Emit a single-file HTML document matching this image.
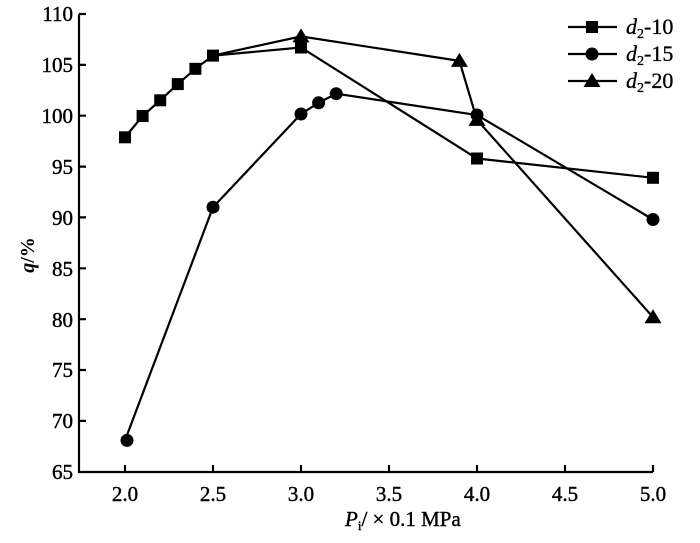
<!DOCTYPE html>
<html><head><meta charset="utf-8"><style>
html,body{margin:0;padding:0;background:#fff;}
svg{display:block;font-family:"Liberation Serif",serif;}
</style></head><body>
<svg width="700" height="543" viewBox="0 0 700 543" xmlns="http://www.w3.org/2000/svg">
<defs>
<g id="sq"><rect x="-6" y="-6" width="12" height="12" fill="#000"/></g>
<g id="ci"><circle r="6.5" fill="#000"/></g>
<g id="tr"><polygon points="0,-8 8.5,6 -8.5,6" fill="#000"/></g>
</defs>
<g stroke="#000" stroke-width="2.2" fill="none">
<polyline points="79,14 79,472 653,472"/>
<path d="M79,14h7M79,64.9h7M79,115.7h7M79,166.6h7M79,217.4h7M79,268.3h7M79,319.2h7M79,370h7M79,420.9h7"/>
<path d="M125,472v-7M213,472v-7M301,472v-7M389,472v-7M477,472v-7M565,472v-7M653,472v-7"/>
</g>
<g font-size="21" text-anchor="end" fill="#000" stroke="#000" stroke-width="0.4">
<text x="73" y="21">110</text><text x="73" y="72">105</text><text x="73" y="123">100</text>
<text x="73" y="174">95</text><text x="73" y="225">90</text><text x="73" y="276">85</text>
<text x="73" y="327">80</text><text x="73" y="377">75</text><text x="73" y="428">70</text>
<text x="73" y="479">65</text>
</g>
<g font-size="21" text-anchor="middle" fill="#000" stroke="#000" stroke-width="0.4">
<text x="125" y="501">2.0</text><text x="213" y="501">2.5</text><text x="301" y="501">3.0</text>
<text x="389" y="501">3.5</text><text x="477" y="501">4.0</text><text x="565" y="501">4.5</text><text x="653" y="501">5.0</text>
</g>
<text x="345" y="526" font-size="21" fill="#000" stroke="#000" stroke-width="0.4"><tspan font-style="italic">P</tspan><tspan font-size="13" dy="4">i</tspan><tspan dy="-4">/ × 0.1 MPa</tspan></text>
<text transform="translate(34,255) rotate(-90)" font-size="20" font-weight="bold" text-anchor="middle" fill="#000"><tspan font-style="italic">q</tspan>/%</text>
<g stroke="#000" stroke-width="2.2" fill="none">
<polyline points="125,137.3 142.6,116 160.2,100.3 177.8,84.1 195.4,68.8 213,55.6 301,47.5 477,158.5 653,177.8"/>
<polyline points="125,440.4 213,207.2 301,114.0 318.6,102.8 336.2,93.7 477,115.0 653,219.5"/>
<polyline points="213,55.6 301,36.4 459.4,60.9 477,119.9 653,317.2"/>
<path d="M568,27h49M568,54h49M568,81h49"/>
</g>
<g>
<use href="#sq" x="125" y="137.3"/><use href="#sq" x="142.6" y="116"/><use href="#sq" x="160.2" y="100.3"/>
<use href="#sq" x="177.8" y="84.1"/><use href="#sq" x="195.4" y="68.8"/><use href="#sq" x="213" y="55.6"/>
<use href="#sq" x="301" y="47.5"/><use href="#sq" x="477" y="158.5"/><use href="#sq" x="653" y="177.8"/>
<use href="#ci" x="127" y="440.4"/><use href="#ci" x="213" y="207.2"/><use href="#ci" x="301" y="114"/>
<use href="#ci" x="318.6" y="102.8"/><use href="#ci" x="336.2" y="93.7"/><use href="#ci" x="477" y="115"/><use href="#ci" x="653" y="219.5"/>
<use href="#tr" x="301" y="36.4"/><use href="#tr" x="459.4" y="60.9"/><use href="#tr" x="477" y="119.9"/><use href="#tr" x="653" y="317.2"/>
<use href="#sq" x="592" y="27"/><use href="#ci" x="592" y="54"/><use href="#tr" x="592" y="81"/>
</g>
<g font-size="22" fill="#000" stroke="#000" stroke-width="0.3">
<text x="626" y="34"><tspan font-style="italic">d</tspan><tspan font-size="14" dy="4">2</tspan><tspan dy="-4">-10</tspan></text>
<text x="626" y="61"><tspan font-style="italic">d</tspan><tspan font-size="14" dy="4">2</tspan><tspan dy="-4">-15</tspan></text>
<text x="626" y="88"><tspan font-style="italic">d</tspan><tspan font-size="14" dy="4">2</tspan><tspan dy="-4">-20</tspan></text>
</g>
</svg>
</body></html>
